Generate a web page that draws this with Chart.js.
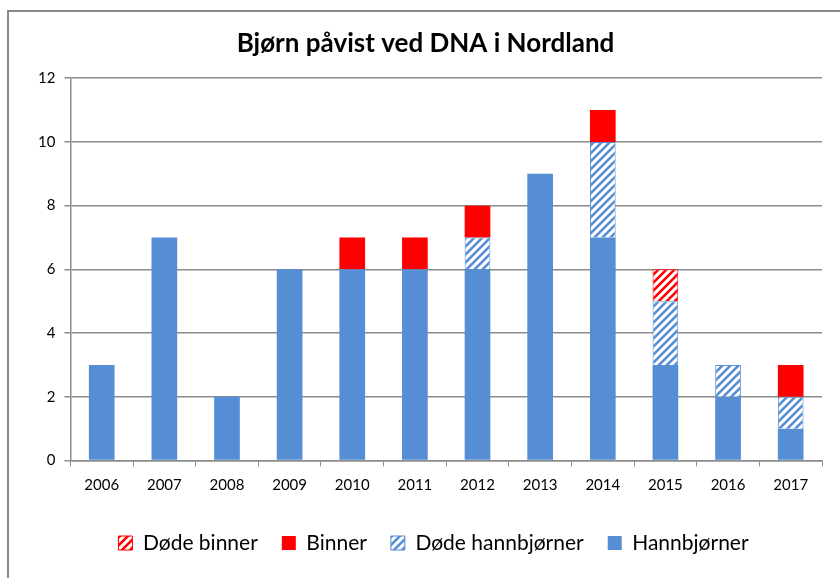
<!DOCTYPE html>
<html>
<head>
<meta charset="utf-8">
<script src="https://cdn.jsdelivr.net/npm/chart.js@4"></script>
<style>
  html, body { margin: 0; padding: 0; background: #fff; }
  #wrap { width: 840px; height: 578px; }
</style>
</head>
<body>
<div id="wrap"><canvas id="chart" width="840" height="578"></canvas></div>
<script>
const years = ['2006', '2007', '2008', '2009', '2010', '2011', '2012', '2013', '2014', '2015', '2016', '2017'];
const hannbjorner = [3, 7, 2, 6, 6, 6, 6, 9, 7, 3, 2, 1];
const dodeHannbjorner = [0, 0, 0, 0, 0, 0, 1, 0, 3, 2, 1, 1];
const binner = [0, 0, 0, 0, 1, 1, 1, 0, 1, 0, 0, 1];
const dodeBinner = [0, 0, 0, 0, 0, 0, 0, 0, 0, 1, 0, 0];
const yTicks = [0, 2, 4, 6, 8, 10, 12];

const BLUE = '#558ed5';
const RED = '#ff0000';

// white background with diagonal stripes
function hatch(color) {
  const c = document.createElement('canvas');
  c.width = 8; c.height = 8;
  const g = c.getContext('2d');
  g.fillStyle = '#fff';
  g.fillRect(0, 0, 8, 8);
  g.strokeStyle = color;
  g.lineWidth = 2.6;
  g.beginPath();
  g.moveTo(-2, 10); g.lineTo(10, -2);
  g.moveTo(-6, 6); g.lineTo(6, -6);
  g.moveTo(2, 14); g.lineTo(14, 2);
  g.stroke();
  return g.createPattern(c, 'repeat');
}

const frame = {
  id: 'frame',
  afterLayout(chart) {
    // legend sits a bit right of centre in the original
    chart.legend.left += 8;
    chart.legend.right += 8;
  },
  beforeDraw(chart) {
    const ctx = chart.ctx;
    ctx.save();
    ctx.fillStyle = '#fff';
    ctx.fillRect(0, 0, chart.width, chart.height);
    ctx.strokeStyle = '#8a8a8a';
    ctx.lineWidth = 2;
    ctx.strokeRect(8, 11, 900, 700);
    ctx.restore();
  }
};

const font = "Lato, 'Open Sans', sans-serif";

new Chart(document.getElementById('chart'), {
  type: 'bar',
  data: {
    labels: years,
    datasets: [
      {label: 'Hannbjørner', data: hannbjorner, backgroundColor: BLUE, borderColor: BLUE, borderWidth: 0},
      {label: 'Døde hannbjørner', data: dodeHannbjorner, backgroundColor: hatch(BLUE), borderColor: BLUE, borderWidth: 1},
      {label: 'Binner', data: binner, backgroundColor: RED, borderColor: RED, borderWidth: 0},
      {label: 'Døde binner', data: dodeBinner, backgroundColor: hatch(RED), borderColor: RED, borderWidth: 1}
    ]
  },
  options: {
    responsive: false,
    animation: false,
    layout: {padding: {left: 29, right: 18, top: 14, bottom: 14.5}},
    datasets: {bar: {categoryPercentage: 1, barPercentage: 0.41}},
    plugins: {
      title: {
        display: true,
        text: 'Bjørn påvist ved DNA i Nordland',
        color: '#000',
        font: {family: font, size: 26, weight: 'bold'},
        padding: {top: 14, bottom: 19}
      },
      legend: {
        position: 'bottom',
        reverse: true,
        labels: {
          color: '#000',
          font: {family: font, size: 21},
          boxWidth: 14,
          boxHeight: 14,
          padding: 24
        }
      },
      tooltip: {enabled: false}
    },
    scales: {
      x: {
        stacked: true,
        offset: true,
        afterFit(axis) { axis.height = 48; },
        grid: {display: true, drawOnChartArea: false, drawTicks: true, tickLength: 6, color: '#8c8c8c', offset: true},
        border: {color: '#8c8c8c', width: 1.5},
        ticks: {color: '#000', font: {family: font, size: 15}, padding: 10}
      },
      y: {
        stacked: true,
        min: 0,
        max: 12,
        afterBuildTicks(axis) { axis.ticks = yTicks.map(v => ({value: v})); },
        grid: {color: '#8c8c8c', lineWidth: 1.5, tickLength: 6},
        border: {color: '#8c8c8c', width: 1.5},
        ticks: {color: '#000', font: {family: font, size: 15}, padding: 9}
      }
    }
  },
  plugins: [frame]
});
</script>
</body>
</html>
